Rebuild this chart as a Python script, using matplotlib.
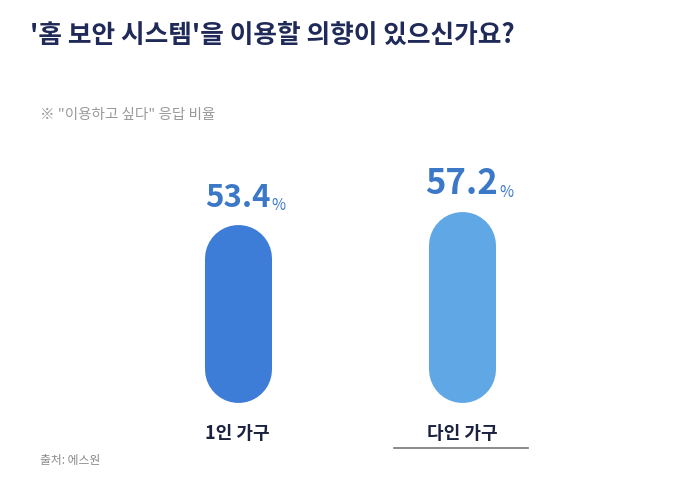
import matplotlib.pyplot as plt

plt.rcParams['font.family'] = ['Noto Sans CJK KR', 'DejaVu Sans']

categories = ["1인 가구", "다인 가구"]
values = [53.4, 57.2]
bar_colors = ["#3d7dd8", "#5fa8e5"]
value_sizes = [22.5, 25]

W, H, DPI = 700, 481, 100
fig = plt.figure(figsize=(W / DPI, H / DPI), dpi=DPI)
fig.patch.set_facecolor("white")
ax = fig.add_axes([0, 0, 1, 1])

# pixel geometry of the plotting area
px_per_unit = 3.33
base_px = 78          # baseline from bottom
x0_px, dx_px = 237.5, 224.5
ax.set_ylim(-base_px / px_per_unit, (H - base_px) / px_per_unit)
ax.set_xlim(-x0_px / dx_px, (W - x0_px) / dx_px)
ax.axis("off")

bar_px = 67
lw = bar_px * 72 / DPI
r = bar_px / 2 / px_per_unit

for i, (cat, v, c, fs) in enumerate(zip(categories, values, bar_colors, value_sizes)):
    ax.plot([i, i], [r, v - r], color=c, lw=lw, solid_capstyle="round")
    t = ax.annotate(f"{v:.1f}", (i, v), xytext=(0, 8), textcoords="offset points",
                    ha="center", va="bottom", fontsize=fs, fontweight="bold",
                    color="#3b78c8")
    ax.annotate("%", (1, 0), xycoords=t, xytext=(1, 0), textcoords="offset points",
                ha="left", va="bottom", fontsize=11, color="#3b78c8")
    ax.annotate(cat, (i, 0), xytext=(0, -22), textcoords="offset points",
                ha="center", va="center", fontsize=13, fontweight="bold",
                color="#1b2240")

fig.text(30 / W, 1 - 35 / H, "'홈 보안 시스템'을 이용할 의향이 있으신가요?",
         fontsize=18.5, fontweight="bold", color="#1f2a58", va="center", ha="left")
fig.text(40 / W, 1 - 115 / H, '※ "이용하고 싶다" 응답 비율',
         fontsize=10.5, color="#9a9a9a", va="center", ha="left")
fig.text(40 / W, 1 - 461 / H, "출처: 에스원",
         fontsize=8.5, color="#8a8a8a", va="center", ha="left")
fig.add_artist(plt.Line2D([394 / W, 528 / W], [1 - 449 / H, 1 - 449 / H],
                          color="#777777", lw=1.2))

fig.savefig("out.png", dpi=DPI, facecolor="white")
